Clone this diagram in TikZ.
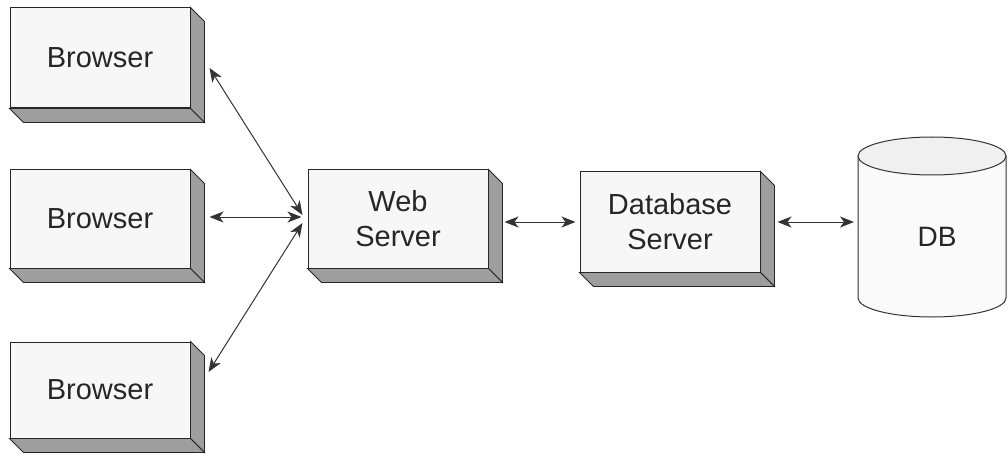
\documentclass[tikz,border=0pt]{standalone}
\usepackage{fontspec}
\setmainfont{Liberation Sans}
\usetikzlibrary{arrows.meta,calc}
\begin{document}
\begin{tikzpicture}[x=1pt,y=-1pt,
  face/.style={draw=black!85,line width=1pt,fill=black!3,minimum width=180pt,
    inner sep=0pt,align=center,font=\fontsize{29}{35}\selectfont,text=black!85},
  sideface/.style={draw=black!85,line width=0.9pt,fill=black!38},
  link/.style={draw=black!80,line width=1pt,
    {Stealth[length=14pt,width=11pt,inset=4pt]}-{Stealth[length=14pt,width=11pt,inset=4pt]}},
  dbline/.style={draw=black!80,line width=1pt}
]
\useasboundingbox (0,0) rectangle (1008,457);
% boxes
\node[face,minimum height=100pt] (b1) at (100,58) {Browser};
\node[face,minimum height=98pt] (b2) at (100,219) {Browser};
\node[face,minimum height=96pt] (b3) at (100,390) {Browser};
\node[face,minimum height=98pt] (web) at (398,219) {Web\\Server};
\node[face,minimum height=100pt] (dbs) at (670,222) {Database\\Server};
\foreach \n in {b1,b2,b3,web,dbs}{
  \path[sideface] (\n.north east) -- ++(14,14) -- ($(\n.south east)+(14,14)$) -- (\n.south east) -- cycle;
  \path[sideface] (\n.south west) -- ++(14,14) -- ($(\n.south east)+(14,14)$) -- (\n.south east) -- cycle;
}
% database cylinder
\fill[black!2] (858,156) -- (858,298) arc[start angle=180,end angle=0,x radius=74,y radius=19] -- (1006,156) -- cycle;
\draw[dbline] (858,156) -- (858,298) arc[start angle=180,end angle=0,x radius=74,y radius=19] -- (1006,156);
\draw[dbline,fill=black!6] (932,156) ellipse[x radius=74,y radius=19];
\node[font=\fontsize{28}{32}\selectfont,text=black!85] (db) at (937,237) {DB};
\coordinate (dbl) at (857,222);
% connectors
\draw[link] ($(b1.east)+(19,10)$) -- ($(web.west)+(-5,-4)$);
\draw[link] ($(b2.east)+(19,-2)$) -- ($(web.west)+(-6,-2)$);
\draw[link] ($(b3.east)+(18,-18)$) -- ($(web.west)+(-5,4)$);
\draw[link] ($(web.east)+(16,3)$) -- ($(dbs.west)+(-4,0)$);
\draw[link] ($(dbs.east)+(17,0)$) -- ($(dbl)+(-3,0)$);
\end{tikzpicture}
\end{document}
